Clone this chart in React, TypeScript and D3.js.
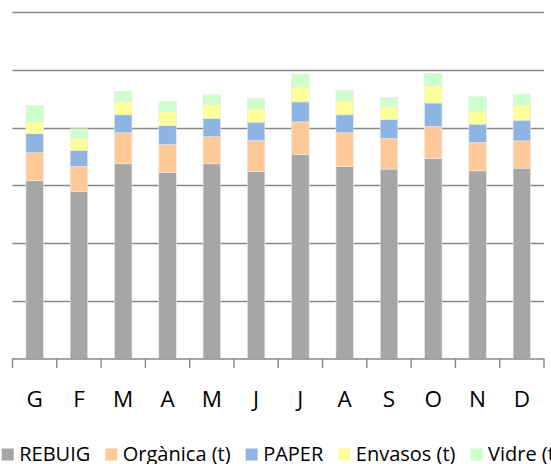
import React, { useEffect, useRef } from 'react';
import * as d3 from 'd3';

// months (Catalan initials)
const months = ['G', 'F', 'M', 'A', 'M', 'J', 'J', 'A', 'S', 'O', 'N', 'D'];
const seriesNames = ['REBUIG', 'Orgànica (t)', 'PAPER', 'Envasos (t)', 'Vidre (t)'];
const seriesColors = ['#A6A6A6', '#FFCA97', '#8EB4E3', '#FFFF99', '#CCFFCC'];

const rebuig = [153.9, 144.6, 168.6, 161.0, 168.6, 161.9, 176.6, 166.2, 164.0, 173.2, 162.5, 164.8];
const organica = [24.2, 21.6, 26.8, 24.2, 23.4, 26.8, 28.3, 29.2, 26.5, 27.7, 24.5, 23.6];
const paper = [16.5, 13.9, 15.6, 16.5, 15.9, 15.9, 17.3, 15.6, 16.5, 20.3, 15.9, 17.9];
const envasos = [10.6, 10.1, 11.5, 11.9, 12.1, 11.5, 13.0, 12.1, 11.0, 15.2, 11.3, 13.2];
const vidre = [13.6, 8.7, 8.7, 8.9, 8.4, 8.9, 11.0, 8.7, 8.1, 10.4, 12.4, 9.3];

const yTicks = [0, 50, 100, 150, 200, 250, 300];

const W = 551;
const H = 464;

export default function App() {
    const ref = useRef<SVGSVGElement>(null);

    useEffect(() => {
        const svg = d3.select(ref.current);
        svg.selectAll('*').remove();

        const left = 12.5, right = 544, top = 12, bottom = 358.5;

        const x = d3.scaleBand<number>()
            .domain(d3.range(months.length))
            .range([left, right])
            .paddingInner(0)
            .paddingOuter(0);
        const y = d3.scaleLinear().domain([0, 300]).range([bottom, top]);

        const rows = months.map((m, i) => ({
            i,
            s0: rebuig[i], s1: organica[i], s2: paper[i], s3: envasos[i], s4: vidre[i],
        }));
        const stack = d3.stack<any>().keys(['s0', 's1', 's2', 's3', 's4']);
        const layers = stack(rows);

        // gridlines
        svg.append('g')
            .selectAll('line')
            .data(yTicks.slice(1))
            .enter()
            .append('line')
            .attr('x1', left)
            .attr('x2', right)
            .attr('y1', (d) => Math.round(y(d)) + 0.5)
            .attr('y2', (d) => Math.round(y(d)) + 0.5)
            .attr('stroke', '#878787')
            .attr('stroke-width', 1.4);

        const barW = 17.5;
        layers.forEach((layer, k) => {
            svg.append('g')
                .selectAll('rect')
                .data(layer)
                .enter()
                .append('rect')
                .attr('x', (d) => x(d.data.i)! + x.bandwidth() / 2 - barW / 2)
                .attr('y', (d) => y(d[1]))
                .attr('width', barW)
                .attr('height', (d) => y(d[0]) - y(d[1]))
                .attr('fill', seriesColors[k])
                .attr('stroke', '#E8E8E8')
                .attr('stroke-width', 0.6);
        });

        // x axis baseline + ticks
        const axis = svg.append('g');
        axis.append('line')
            .attr('x1', left).attr('x2', right)
            .attr('y1', bottom + 0.5).attr('y2', bottom + 0.5)
            .attr('stroke', '#878787').attr('stroke-width', 1.4);
        axis.selectAll('line.tick')
            .data(d3.range(months.length + 1))
            .enter()
            .append('line')
            .attr('class', 'tick')
            .attr('x1', (d) => left + d * x.step())
            .attr('x2', (d) => left + d * x.step())
            .attr('y1', bottom)
            .attr('y2', bottom + 9.5)
            .attr('stroke', '#878787').attr('stroke-width', 1.4);
        axis.selectAll('text')
            .data(months)
            .enter()
            .append('text')
            .attr('x', (_, i) => x(i)! + x.bandwidth() / 2)
            .attr('y', 406.5)
            .attr('text-anchor', 'middle')
            .style('font-family', '"Open Sans", sans-serif')
            .style('font-size', '22.5px')
            .style('fill', '#000')
            .text((d) => d);

        // legend, runs off the right edge like the original
        const legend = svg.append('g');
        let lx = 1.7;
        seriesNames.forEach((name, k) => {
            legend.append('rect')
                .attr('x', lx).attr('y', 448.5)
                .attr('width', 12).attr('height', 12)
                .attr('fill', seriesColors[k]);
            const t = legend.append('text')
                .attr('x', lx + 17.5)
                .attr('y', 461)
                .style('font-family', '"Open Sans", sans-serif')
                .style('font-size', '20px')
                .style('fill', '#000')
                .text(name);
            const w = (t.node() as SVGTextElement).getComputedTextLength();
            lx += 17.5 + w + 15;
        });
    }, []);

    return (
        <svg ref={ref} width={W} height={H}
            style={{ position: 'absolute', left: 0, top: 0, background: '#fff' }} />
    );
}
